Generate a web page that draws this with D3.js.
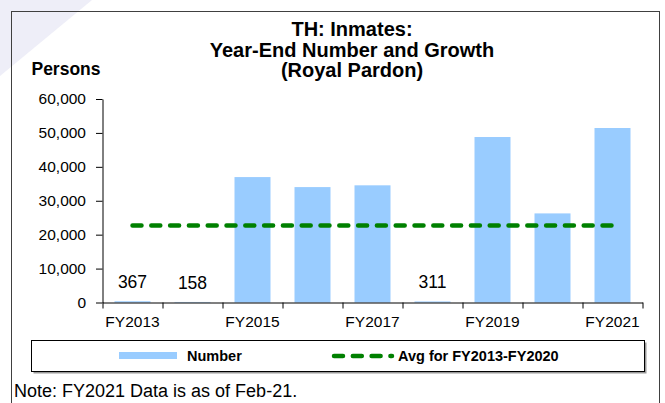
<!DOCTYPE html>
<html>
<head>
<meta charset="utf-8">
<script src="https://cdn.jsdelivr.net/npm/d3@7"></script>
<style>
  body { margin: 0; background: #fff; }
  svg { display: block; font-family: "Liberation Sans", Arial, sans-serif; }
</style>
</head>
<body>
<div id="chart"></div>
<script>
// data
const years = ["FY2013", "FY2014", "FY2015", "FY2016", "FY2017", "FY2018", "FY2019", "FY2020", "FY2021"];
const inmates = [367, 158, 36980, 34030, 34550, 311, 48790, 26270, 51450];
const avgLine = [22680, 22680, 22680, 22680, 22680, 22680, 22680, 22680, 22680];
const labelled = ["FY2013", "FY2014", "FY2018"];   // only the tiny bars get a label
const shownYears = ["FY2013", "FY2015", "FY2017", "FY2019", "FY2021"];
const yTicks = [0, 10000, 20000, 30000, 40000, 50000, 60000];
const titleLines = ["TH: Inmates:", "Year-End Number and Growth", "(Royal Pardon)"];

const width = 665, height = 403;
const plot = { left: 102.5, right: 642.5, top: 99, bottom: 302.5 };
const fontFam = "'Liberation Sans', Arial, sans-serif";

const svg = d3.select("#chart").append("svg")
    .attr("width", width)
    .attr("height", height);

// faint background swoosh in the corner
svg.append("path")
    .attr("d", "M0,0 L92,0 L0,76 Z")
    .attr("fill", "#eeeef8");

// outer frame
svg.append("rect")
    .attr("x", 11.5).attr("y", 11.5)
    .attr("width", 648).attr("height", 400)
    .attr("fill", "none")
    .attr("stroke", "#404040");

const x = d3.scaleBand()
    .domain(years)
    .range([plot.left, plot.right])
    .paddingInner(0.4)
    .paddingOuter(0.2);

const y = d3.scaleLinear()
    .domain([0, 60000])
    .range([plot.bottom, plot.top]);

// bars
svg.append("g").selectAll("rect")
    .data(years)
    .join("rect")
    .attr("x", d => x(d))
    .attr("width", x.bandwidth())
    .attr("y", (d, i) => y(inmates[i]))
    .attr("height", (d, i) => y(0) - y(inmates[i]))
    .attr("fill", "#99ccff");

// small value labels
svg.append("g").selectAll("text")
    .data(years.filter(d => labelled.includes(d)))
    .join("text")
    .attr("x", d => x(d) + x.bandwidth() / 2)
    .attr("y", d => y(inmates[years.indexOf(d)]) - 13)
    .attr("text-anchor", "middle")
    .style("font-size", "17.5px")
    .attr("fill", "#000")
    .text(d => d3.format(",")(inmates[years.indexOf(d)]));

// average line
const line = d3.line()
    .x((d, i) => x(years[i]) + x.bandwidth() / 2)
    .y(d => y(d));

svg.append("path")
    .datum(avgLine)
    .attr("d", line)
    .attr("fill", "none")
    .attr("stroke", "#008000")
    .attr("stroke-width", 4.5)
    .attr("stroke-linecap", "round")
    .attr("stroke-dasharray", "9,9.8");

// y axis
const yAxis = svg.append("g")
    .attr("transform", `translate(${plot.left},0)`)
    .call(d3.axisLeft(y).tickValues(yTicks).tickFormat(d3.format(",")).tickSize(6.5).tickSizeOuter(0).tickPadding(10));
yAxis.attr("font-family", null).attr("font-size", null);
yAxis.selectAll("text")
    .style("font-size", "15.5px")
    .style("font-family", fontFam)
    .attr("fill", "#000");
yAxis.selectAll("line, path").attr("stroke", "#000");

// x axis: ticks on category edges, labels on every other centre
const xEdge = d3.scaleLinear().domain([0, years.length]).range([plot.left, plot.right]);
const xAxis = svg.append("g")
    .attr("transform", `translate(0,${plot.bottom})`)
    .call(d3.axisBottom(xEdge).tickValues(d3.range(years.length + 1)).tickFormat("").tickSize(6).tickSizeOuter(0));
xAxis.selectAll("line, path").attr("stroke", "#000");

svg.append("g").selectAll("text")
    .data(shownYears)
    .join("text")
    .attr("x", d => x(d) + x.bandwidth() / 2)
    .attr("y", 326.5)
    .attr("text-anchor", "middle")
    .style("font-size", "15.5px")
    .attr("fill", "#000")
    .text(d => d);

// title
svg.append("g").selectAll("text")
    .data(titleLines)
    .join("text")
    .attr("x", 352)
    .attr("y", (d, i) => 36 + i * 20.5)
    .attr("text-anchor", "middle")
    .style("font-size", "20px")
    .attr("font-weight", "bold")
    .attr("fill", "#000")
    .text(d => d);

svg.append("text")
    .attr("x", 66).attr("y", 75)
    .attr("text-anchor", "middle")
    .style("font-size", "17.5px")
    .attr("font-weight", "bold")
    .text("Persons");

// legend
const legend = svg.append("g");
legend.append("rect")
    .attr("x", 33.5).attr("y", 342.5)
    .attr("width", 613).attr("height", 31)
    .attr("fill", "#999");
legend.append("rect")
    .attr("x", 31.5).attr("y", 340.5)
    .attr("width", 613).attr("height", 31)
    .attr("fill", "#fff")
    .attr("stroke", "#000");
legend.append("rect")
    .attr("x", 119).attr("y", 352)
    .attr("width", 58).attr("height", 7)
    .attr("fill", "#99ccff");
legend.append("text")
    .attr("x", 187).attr("y", 361)
    .style("font-size", "14.5px")
    .attr("font-weight", "bold")
    .text("Number");
legend.append("line")
    .attr("x1", 334).attr("x2", 392)
    .attr("y1", 356).attr("y2", 356)
    .attr("stroke", "#008000")
    .attr("stroke-width", 4.5)
    .attr("stroke-linecap", "round")
    .attr("stroke-dasharray", "9,9.8");
legend.append("text")
    .attr("x", 398).attr("y", 361)
    .style("font-size", "14.5px")
    .attr("font-weight", "bold")
    .text("Avg for FY2013-FY2020");

// note
svg.append("text")
    .attr("x", 14).attr("y", 396.5)
    .style("font-size", "18px")
    .attr("fill", "#000")
    .text("Note: FY2021 Data is as of Feb-21.");
</script>
</body>
</html>
